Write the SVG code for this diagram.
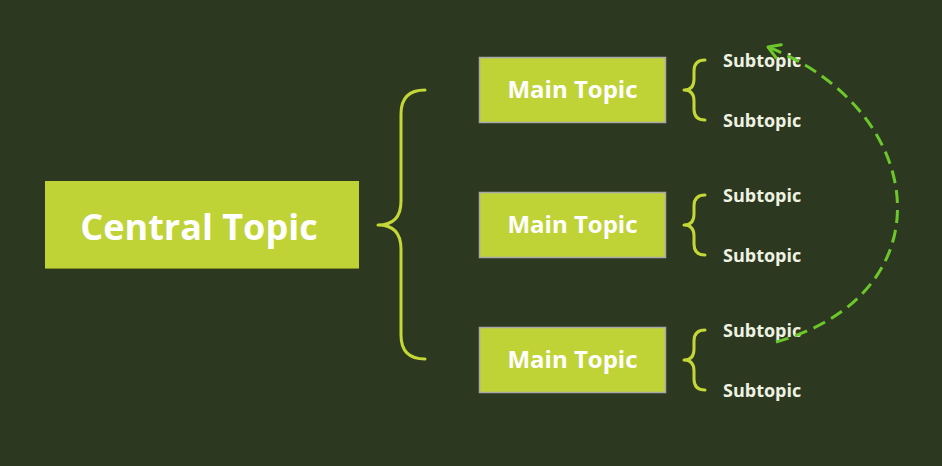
<svg xmlns="http://www.w3.org/2000/svg" width="942" height="466" viewBox="0 0 942 466">
  <defs>
    <style>
      .bg { fill: #2c3820; }
      .central { fill: #bfd336; }
      .main { fill: #bfd336; stroke: #a8a8a8; stroke-width: 1.5; }
      .brace { fill: none; stroke: #c3d737; stroke-width: 3; stroke-linecap: round; stroke-linejoin: round; }
      .t-central { font-family: "Open Sans", "Noto Sans", sans-serif; font-weight: bold; font-size: 36px; fill: #ffffff; text-anchor: middle; }
      .t-main { font-family: "Open Sans", "Noto Sans", sans-serif; font-weight: bold; font-size: 24px; fill: #ffffff; text-anchor: middle; }
      .t-sub { font-family: "Open Sans", "Noto Sans", sans-serif; font-weight: bold; font-size: 18px; fill: #eef2e2; }
      .rel { fill: none; stroke: #6cc72c; stroke-width: 3; stroke-dasharray: 13 7; }
    </style>
    <marker id="openArrow" markerUnits="userSpaceOnUse" markerWidth="30" markerHeight="30" viewBox="-15 -15 30 30" refX="0" refY="0" orient="auto">
      <path d="M -11.5 -7 L 0 0 L -11.5 7" fill="none" stroke="#6cc72c" stroke-width="3" stroke-linecap="round" stroke-linejoin="round"/>
    </marker>
  </defs>

  <rect class="bg" x="0" y="0" width="942" height="466"/>

  <g id="central-topic">
    <rect class="central" x="45" y="181" width="314" height="88"/>
    <line x1="45" y1="268.5" x2="359" y2="268.5" stroke="#7f9021" stroke-width="1.2"/>
    <text class="t-central" x="199" y="240">Central Topic</text>
  </g>

  <g id="main-topic-1">
    <rect class="main" x="479.5" y="57.5" width="186" height="65"/>
    <text class="t-main" x="572.5" y="98">Main Topic</text>
  </g>
  <g id="main-topic-2">
    <rect class="main" x="479.5" y="192.5" width="186" height="65"/>
    <text class="t-main" x="572.5" y="233">Main Topic</text>
  </g>
  <g id="main-topic-3">
    <rect class="main" x="479.5" y="327.5" width="186" height="65"/>
    <text class="t-main" x="572.5" y="368">Main Topic</text>
  </g>

  <g id="subtopic-1a"><text class="t-sub" x="723" y="67">Subtopic</text></g>
  <g id="subtopic-1b"><text class="t-sub" x="723" y="127">Subtopic</text></g>
  <g id="subtopic-2a"><text class="t-sub" x="723" y="202">Subtopic</text></g>
  <g id="subtopic-2b"><text class="t-sub" x="723" y="262">Subtopic</text></g>
  <g id="subtopic-3a"><text class="t-sub" x="723" y="337">Subtopic</text></g>
  <g id="subtopic-3b"><text class="t-sub" x="723" y="397">Subtopic</text></g>

  <g id="connectors">
    <path class="brace" d="M425,90 Q401,90 401,114 L401,201 Q401,225 378,225 Q401,225 401,249 L401,335 Q401,359 425,359"/>
    <path class="brace" d="M705,60 Q694,60 694,71 L694,79 Q694,90 684,90 Q694,90 694,101 L694,109 Q694,120 705,120"/>
    <path class="brace" d="M705,195 Q694,195 694,206 L694,214 Q694,225 684,225 Q694,225 694,236 L694,244 Q694,255 705,255"/>
    <path class="brace" d="M705,330 Q694,330 694,341 L694,349 Q694,360 684,360 Q694,360 694,371 L694,379 Q694,390 705,390"/>
    <path class="rel" d="M776,342 C950,293 928,110 768,47" marker-end="url(#openArrow)"/>
  </g>
</svg>
